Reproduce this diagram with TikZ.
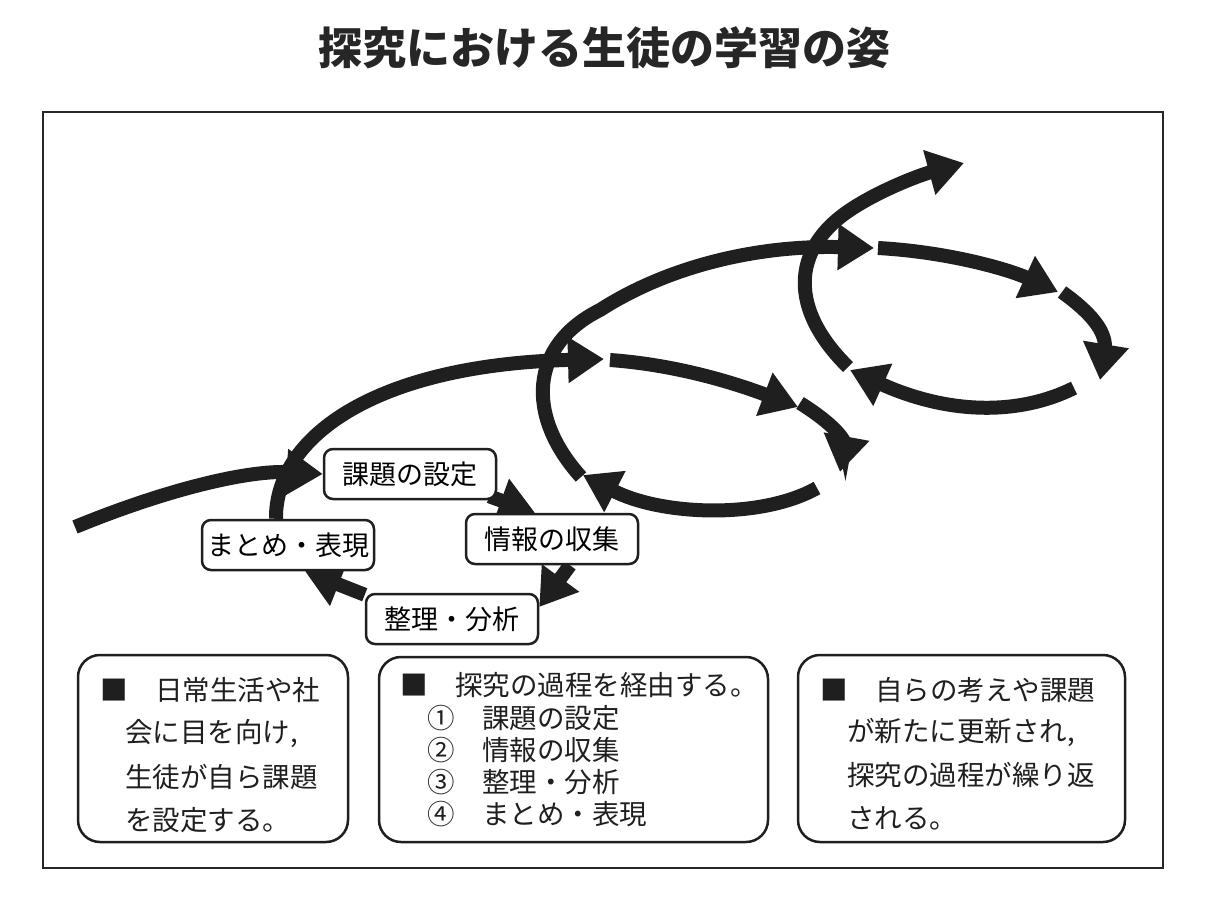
\documentclass[tikz,border=0pt]{standalone}
\usepackage{fontspec}
\setmainfont{Noto Sans CJK JP}
\usetikzlibrary{arrows.meta,backgrounds}
\begin{document}
\begin{tikzpicture}[x=1pt,y=-1pt,
  bigarrow/.style={line width=14pt,draw=black!88,-{Triangle[length=36pt,width=44pt]}},
  stepbox/.style={draw=black!88,line width=2.5pt,rounded corners=9pt,fill=white,minimum width=172pt,minimum height=50pt,inner sep=0pt,font=\fontsize{27pt}{30pt}\selectfont},
  infobox/.style={draw=black!88,line width=2.5pt,rounded corners=22pt},
  txt/.style={anchor=west,inner sep=0pt,font=\fontsize{27.5pt}{30pt}\selectfont,text=black!88}]
\useasboundingbox (0,0) rectangle (1208,906);
\node[font=\fontsize{44pt}{50pt}\selectfont\bfseries,text=black!85] (title) at (604,48) {探究における生徒の学習の姿};
\draw[line width=2pt,draw=black!85] (43,112) rectangle (1163,868);

\node[stepbox] (kadai) at (410,474) {課題の設定};
\node[stepbox] (joho) at (552,539) {情報の収集};
\node[stepbox] (seiri) at (452,619) {整理・分析};
\node[stepbox] (matome) at (288,545) {まとめ・表現};

\coordinate (s0) at (75,527);
\coordinate (a1) at (604,359);
\coordinate (b1s) at (610,360); \coordinate (b1e) at (798,407);
\coordinate (b2s) at (800,403); \coordinate (b2e) at (840,472);
\coordinate (b3s) at (817,488); \coordinate (b3e) at (583,475);
\coordinate (b4s) at (581,477); \coordinate (b4e) at (874,248);
\coordinate (c1s) at (878,248); \coordinate (c1e) at (1058,292);
\coordinate (c2s) at (1062,292); \coordinate (c2e) at (1100,380);
\coordinate (c3s) at (1074,388); \coordinate (c3e) at (850,370);
\coordinate (c4s) at (848,367); \coordinate (c4e) at (964,163);

\begin{scope}[on background layer]
\draw[bigarrow] ([xshift=-12pt]matome.north) .. controls (275,440) and (370,365) .. (a1);
\draw[bigarrow] (s0) .. controls (170,488) and (250,470) .. (kadai.west);
\draw[bigarrow] (b4s) .. controls (525,415) and (530,345) .. (600,310) .. controls (670,265) and (760,245) .. (b4e);
\draw[bigarrow] (b1s) .. controls (680,365) and (740,385) .. (b1e);
\draw[bigarrow] (b2s) .. controls (835,425) and (845,440) .. (845,445) -- (b2e);
\draw[bigarrow] (b3s) .. controls (760,520) and (660,515) .. (b3e);
\draw[bigarrow] (c4s) .. controls (790,310) and (790,250) .. (850,210) .. controls (880,190) and (920,175) .. (c4e);
\draw[bigarrow] (c1s) .. controls (950,252) and (1010,270) .. (c1e);
\draw[bigarrow] (c2s) .. controls (1098,318) and (1106,335) .. (1105,350) -- (c2e);
\draw[bigarrow] (c3s) .. controls (1020,415) and (950,415) .. (c3e);
\draw[bigarrow] ([xshift=-8pt,yshift=4pt]kadai.south east) -- ([xshift=-17pt]joho.north);
\draw[bigarrow] ([xshift=18pt]joho.south) -- ([yshift=12pt]seiri.east);
\draw[bigarrow] ([yshift=-2pt]seiri.north west) -- ([xshift=17pt]matome.south);
\end{scope}

\draw[infobox] (78,655) rectangle (348,842);
\draw[infobox] (379,657) rectangle (768,842);
\draw[infobox] (798,655) rectangle (1125,842);

\node[txt] (t11) at (100,690) {■　日常生活や社};
\node[txt] (t12) at (125,734) {会に目を向け,};
\node[txt] (t13) at (125,777) {生徒が自ら課題};
\node[txt] (t14) at (125,820) {を設定する。};

\node[txt] (t21) at (400,685) {■　探究の過程を経由する。};
\node[txt] (t22) at (427,718) {①　課題の設定};
\node[txt] (t23) at (427,750) {②　情報の収集};
\node[txt] (t24) at (427,782) {③　整理・分析};
\node[txt] (t25) at (427,814) {④　まとめ・表現};

\node[txt] (t31) at (820,690) {■　自らの考えや課題};
\node[txt] (t32) at (847,732) {が新たに更新され,};
\node[txt] (t33) at (847,775) {探究の過程が繰り返};
\node[txt] (t34) at (847,818) {される。};
\end{tikzpicture}
\end{document}
